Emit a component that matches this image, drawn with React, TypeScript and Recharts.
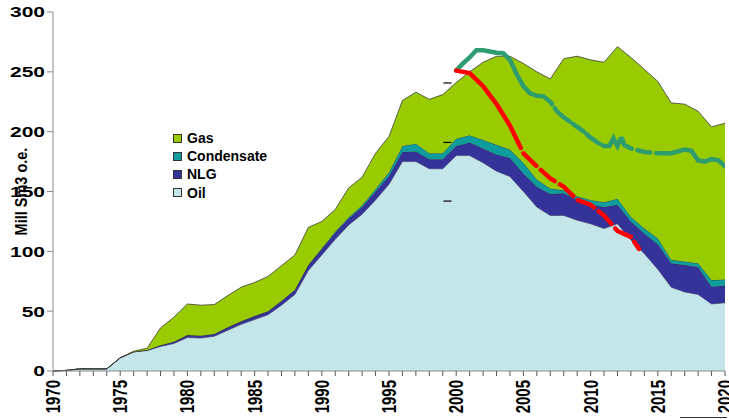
import React from "react";
import { ComposedChart, Area, Line, XAxis, YAxis, ReferenceLine } from "recharts";

// Norwegian shelf production, Mill Sm3 o.e..
const years = [
  1970, 1971, 1972, 1973, 1974, 1975, 1976, 1977, 1978, 1979,
  1980, 1981, 1982, 1983, 1984, 1985, 1986, 1987, 1988, 1989,
  1990, 1991, 1992, 1993, 1994, 1995, 1996, 1997, 1998, 1999,
  2000, 2001, 2002, 2003, 2004, 2005, 2006, 2007, 2008, 2009,
  2010, 2011, 2012, 2013, 2014, 2015, 2016, 2017, 2018, 2019, 2020,
];

const oil = [
  0, 0.5, 1.8, 1.8, 1.8, 11, 16, 17, 20.5, 23,
  28, 27.5, 29, 34, 39, 43, 47, 55, 64, 84,
  97, 110, 122, 131, 143, 156, 175, 175, 169, 169,
  180, 180, 174, 167, 162.5, 150, 137, 130, 130, 126,
  123, 119, 123, 109.5, 98, 85, 70, 66, 64, 56, 57,
];

const nlg = [
  0, 0, 0, 0, 0, 0, 0, 0.5, 1, 1.5,
  2, 2, 2, 2.5, 2.5, 3, 3, 3.5, 4, 4.5,
  5, 5.5, 5.5, 6, 7, 7, 8, 8.5, 8, 8,
  8, 11, 12, 14, 15.5, 15, 17, 18, 18.5, 17,
  16, 18, 16, 15.5, 17, 21, 20, 22.5, 23, 14.5, 14.5,
];

const condensate = [
  0, 0, 0, 0, 0, 0, 0, 0, 0, 0,
  0, 0, 0, 0, 0, 0, 0, 0, 0, 0,
  0.5, 1, 1, 1.5, 2, 3, 5, 6.5, 5, 5,
  6, 6, 7, 8, 7, 9, 6, 4.5, 2.5, 3,
  4, 4, 5, 4, 4, 5, 3, 3, 3, 5.5, 5,
];

const gas = [
  0, 0, 0, 0, 0, 0, 0.5, 1.5, 14.5, 20.5,
  26, 25.5, 24.5, 26.5, 28.5, 28, 29, 29.5, 29, 31.5,
  22.5, 18.5, 24.5, 23.5, 30, 30, 38, 43, 45, 49,
  47, 53, 65, 74, 78, 83, 90, 91.5, 110, 117,
  117, 117, 127, 133, 133, 131, 131, 131.5, 127, 128, 130.5,
];

// hand-drawn green projection line
const greenYears = [
  2000, 2000.5, 2001, 2001.5, 2002, 2002.5, 2003, 2003.5, 2004, 2004.5,
  2005, 2005.5, 2006, 2006.5, 2007, 2007.5, 2008, 2008.5, 2009, 2009.5,
  2010, 2010.5, 2011, 2011.4, 2011.7, 2012, 2012.3, 2012.5, 2013, 2013.5,
  2014, 2015, 2016, 2017, 2017.5, 2018, 2018.5, 2019, 2019.5, 2020,
];
const greenValues = [
  251, 257, 262, 268, 268, 267, 266, 265.5, 260, 248,
  238, 232, 230, 229.5, 225, 217, 212, 208, 204, 200,
  195, 191, 188, 188, 194.6, 188, 195.5, 189, 186, 184.5,
  183, 182, 182, 185, 184, 176, 175, 177, 176, 171,
];

// red dashed decline line
const redYears = [2000, 2001, 2002, 2003, 2004, 2005, 2006, 2007, 2008, 2009, 2010, 2011, 2012, 2013, 2013.6];
const redValues = [251, 249, 238, 223, 205, 182, 171, 161, 154, 143, 139, 130, 117, 112, 102];

const yTicks = [0, 50, 100, 150, 200, 250, 300];

// stray short marks near 1999 in the original
const markYear = [1999.05, 1999.65];
const markValues = [240.7, 191, 142];

const legendItems = [
  { name: "Gas", color: "#99CC00" },
  { name: "Condensate", color: "#0E9C9C" },
  { name: "NLG", color: "#333399" },
  { name: "Oil", color: "#C4E6EA" },
];

const data = years.map((year, i) => ({
  year,
  oil: oil[i],
  nlg: nlg[i],
  condensate: condensate[i],
  gas: gas[i],
}));
const greenData = greenYears.map((year, i) => ({ year, value: greenValues[i] }));
const redData = redYears.map((year, i) => ({ year, value: redValues[i] }));

const FONT = "'Liberation Sans', Arial, sans-serif";

function XTick({ x, y, payload }: any) {
  if (payload.value % 5 !== 0) return null;
  return (
    <g transform={`translate(${x},${y + 2}) scale(1.3,1) rotate(-90)`}>
      <text textAnchor="end" dy="0.36em" fontSize={15} fontWeight="bold" fontFamily={FONT} fill="#000">
        {payload.value}
      </text>
    </g>
  );
}

function YTick({ x, y, payload }: any) {
  return (
    <g transform={`translate(${x},${y}) scale(1.4,1)`}>
      <text textAnchor="end" dy="0.36em" fontSize={15} fontWeight="bold" fontFamily={FONT} fill="#000">
        {payload.value}
      </text>
    </g>
  );
}

function YTitle({ viewBox }: any) {
  const cy = viewBox.y + viewBox.height / 2;
  return (
    <g transform={`translate(21,${cy}) scale(1.1,1) rotate(-90)`}>
      <text textAnchor="middle" dy="0.36em" fontSize={14.5} fontWeight="bold" fontFamily={FONT} fill="#000">
        Mill Sm3 o.e.
      </text>
    </g>
  );
}

// legend sits inside the plot, so it is an overlay rather than a Recharts Legend (which would shift the axes)
function LegendBox() {
  return (
    <div style={{ position: "absolute", left: 173, top: 129, fontFamily: FONT }}>
      {legendItems.map((it) => (
        <div key={it.name} style={{ display: "flex", alignItems: "center", height: 18.2 }}>
          <span
            style={{
              width: 7,
              height: 7,
              background: it.color,
              border: "1px solid #333",
              display: "inline-block",
              marginRight: 5,
            }}
          />
          <span style={{ fontSize: 14, fontWeight: "bold", color: "#000" }}>{it.name}</span>
        </div>
      ))}
    </div>
  );
}

export default function App() {
  return (
    <div style={{ position: "absolute", left: 0, top: 0, width: 729, height: 419, background: "#fff" }}>
      <ComposedChart width={729} height={419} data={data} margin={{ top: 12, right: 4, bottom: 0, left: 0 }}>
        <XAxis
          dataKey="year"
          type="number"
          domain={[1970, 2020]}
          ticks={years}
          interval={0}
          allowDataOverflow
          height={48}
          stroke="#8c8c8c"
          tickLine={{ stroke: "#555" }}
          tickSize={5}
          tick={<XTick />}
        />
        <YAxis
          type="number"
          domain={[0, 300]}
          ticks={yTicks}
          width={53}
          stroke="#8c8c8c"
          tickLine={{ stroke: "#8c8c8c" }}
          tickSize={6}
          tickMargin={2}
          tick={<YTick />}
          label={<YTitle />}
        />
        <Area type="linear" dataKey="oil" stackId="1" fill="#C4E6EA" fillOpacity={1} stroke="#4a4a4a" strokeWidth={0.7} isAnimationActive={false} dot={false} activeDot={false} />
        <Area type="linear" dataKey="nlg" stackId="1" fill="#333399" fillOpacity={1} stroke="#2a2a2a" strokeWidth={0.7} isAnimationActive={false} dot={false} activeDot={false} />
        <Area type="linear" dataKey="condensate" stackId="1" fill="#0E9C9C" fillOpacity={1} stroke="#2a2a2a" strokeWidth={0.7} isAnimationActive={false} dot={false} activeDot={false} />
        <Area type="linear" dataKey="gas" stackId="1" fill="#99CC00" fillOpacity={1} stroke="#3a3a3a" strokeWidth={0.8} isAnimationActive={false} dot={false} activeDot={false} />
        {markValues.map((v) => (
          <ReferenceLine
            key={v}
            segment={[{ x: markYear[0], y: v }, { x: markYear[1], y: v }]}
            stroke="#000"
            strokeWidth={1.2}
          />
        ))}
        <Line
          data={greenData}
          dataKey="value"
          type="linear"
          stroke="#2E9C6E"
          strokeWidth={4.5}
          strokeLinecap="round"
          strokeDasharray="130 5 20 4 13 4 16 4 32 4 15 6 13 6 80"
          dot={false}
          activeDot={false}
          isAnimationActive={false}
        />
        <Line
          data={redData}
          dataKey="value"
          type="linear"
          stroke="#FF0000"
          strokeWidth={4.5}
          strokeLinecap="round"
          strokeDasharray="105 6 18 6 18 6 18 6 18 6 18 6 18 6 18 6 18 6"
          dot={false}
          activeDot={false}
          isAnimationActive={false}
        />
      </ComposedChart>
      <LegendBox />
      <div style={{ position: "absolute", left: 680, top: 417, width: 47, height: 1, background: "#333" }} />
    </div>
  );
}
